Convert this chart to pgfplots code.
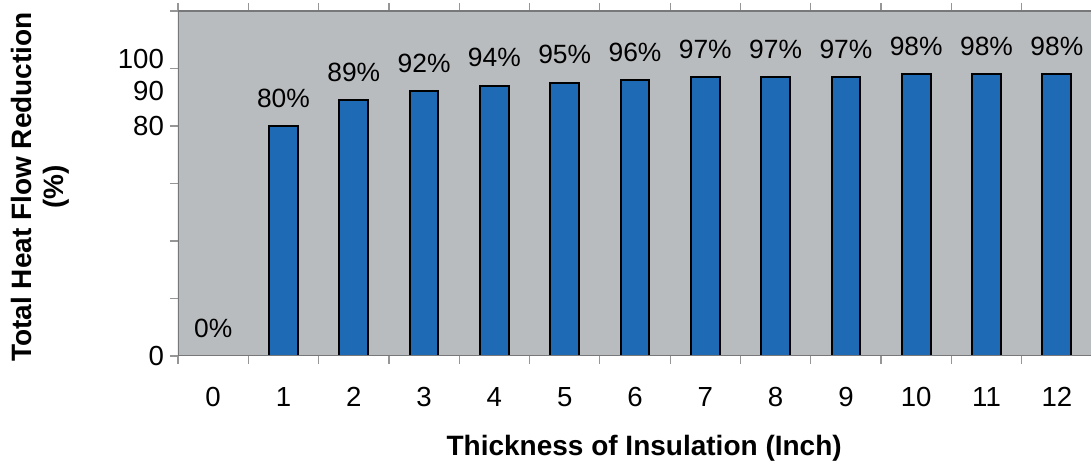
\documentclass[border=0pt]{standalone}
\usepackage{fontspec}
\setmainfont{Liberation Sans}
\usepackage{pgfplots}
\pgfplotsset{compat=1.18}
\definecolor{plotbg}{RGB}{185,188,190}
\definecolor{barblue}{RGB}{30,106,180}
\definecolor{framegray}{RGB}{118,120,122}
\definecolor{tickgray}{RGB}{150,150,150}

\begin{document}
\begin{tikzpicture}
\begin{axis}[
    name=ax, at={(0,0)}, anchor=south west,
    width=457pt, height=172.5pt, scale only axis,
    xmin=-0.5, xmax=12.5,
    ymin=0, ymax=120,
    axis background/.style={fill=plotbg},
    axis line style={draw=none},
    /pgf/number format/assume math mode=true,
    ybar, bar width=0.41,
    tick align=outside,
    major tick length=4pt, minor tick length=4pt,
    tick label style={font=\fontsize{13.8}{16}\selectfont},
    xtick={0,...,12},
    major x tick style={draw=none},
    minor xtick={-0.5,0.5,...,12.5},
    minor x tick style={tickgray, line width=0.6pt},
    xticklabel style={yshift=-8pt},
    ytick={0,20,...,120},
    yticklabels={},
    y tick style={tickgray, line width=0.6pt},
    extra y ticks={0,80,92.3,103.3},
    extra y tick labels={0,80,90,100},
    extra y tick style={major tick length=0pt,
        yticklabel style={xshift=-3.5pt}},
    nodes near coords={\pgfmathprintnumber{\pgfplotspointmeta}\%},
    nodes near coords style={font=\fontsize{13.2}{16}\selectfont, anchor=south, yshift=5.5pt},
    xlabel={Thickness of Insulation (Inch)},
    xlabel style={font=\bfseries\fontsize{14}{17}\selectfont,
        at={(axis description cs:0.51,-0.2667)}, anchor=center},
    ylabel={Total Heat Flow Reduction\\(\%)},
    ylabel style={font=\bfseries\fontsize{14}{16}\selectfont, align=center,
        at={(axis description cs:-0.151,0.49)}, anchor=center},
]
\addplot[fill=barblue, draw=black, line width=1pt]
    coordinates {(0,0)(1,80)(2,89)(3,92)(4,94)(5,95)(6,96)(7,97)(8,97)(9,97)(10,98)(11,98)(12,98)};
\draw[framegray, line width=1pt] (rel axis cs:0,0) -- (rel axis cs:1,0);
\draw[framegray, line width=1pt] (rel axis cs:0,0) -- (rel axis cs:0,1);
\draw[framegray, line width=1.5pt] (rel axis cs:0,1) -- (rel axis cs:1,1);
\end{axis}
\pgfresetboundingbox
\path[use as bounding box] ([xshift=-89pt,yshift=-54pt]ax.south west) rectangle ([xshift=-0.5pt,yshift=5.5pt]ax.north east);
\end{tikzpicture}
\end{document}
